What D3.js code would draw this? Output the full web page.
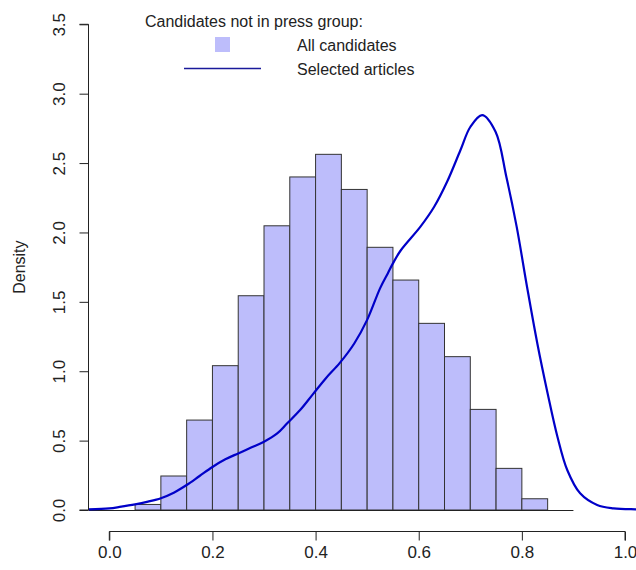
<!DOCTYPE html>
<html>
<head>
<meta charset="utf-8">
<script src="https://cdn.jsdelivr.net/npm/d3@7"></script>
<style>
  body { margin: 0; background: #fff; }
  text { font-family: "Liberation Sans", Arial, sans-serif; fill: #222; }
</style>
</head>
<body>
<svg id="chart" width="636" height="570"></svg>
<script>
// histogram of all candidates (density), bins of 0.05
const binStarts = [0.05, 0.10, 0.15, 0.20, 0.25, 0.30, 0.35, 0.40, 0.45, 0.50, 0.55, 0.60, 0.65, 0.70, 0.75, 0.80];
const binDensity = [0.04, 0.245, 0.648, 1.04, 1.544, 2.048, 2.40, 2.563, 2.31, 1.893, 1.657, 1.345, 1.105, 0.725, 0.30, 0.081];
const binWidth = 0.05;

// kernel density of selected articles
const densX = [-0.04, 0.0, 0.02, 0.05, 0.075, 0.10, 0.125, 0.15, 0.175, 0.20, 0.225, 0.25, 0.275, 0.30, 0.325, 0.345,
  0.37, 0.395, 0.42, 0.447, 0.475, 0.50, 0.525, 0.54, 0.55, 0.565, 0.603, 0.63, 0.655, 0.681, 0.70, 0.723,
  0.749, 0.77, 0.79, 0.81, 0.83, 0.85, 0.869, 0.888, 0.913, 0.946, 0.978, 1.02, 1.04];
const densY = [0.004, 0.012, 0.022, 0.04, 0.06, 0.085, 0.125, 0.18, 0.245, 0.31, 0.365, 0.408, 0.45, 0.492, 0.55, 0.625,
  0.72, 0.835, 0.95, 1.06, 1.2, 1.37, 1.597, 1.705, 1.777, 1.87, 2.04, 2.185, 2.365, 2.594, 2.76, 2.846,
  2.726, 2.40, 2.04, 1.609, 1.2, 0.84, 0.528, 0.288, 0.12, 0.036, 0.012, 0.005, 0.004];

const xTicks = [0.0, 0.2, 0.4, 0.6, 0.8, 1.0];
const yTicks = [0.0, 0.5, 1.0, 1.5, 2.0, 2.5, 3.0, 3.5];
const baseLine = [-0.04, 0.9];

const legendTitle = 'Candidates not in press group:';
const legendLabels = ['All candidates', 'Selected articles'];

const svg = d3.select('#chart');

const x = d3.scaleLinear().domain([0, 1]).range([109.3, 625]);
const y = d3.scaleLinear().domain([0, 3.5]).range([510, 24.3]);

// bars
svg.append('g')
  .selectAll('rect')
  .data(binStarts)
  .enter()
  .append('rect')
  .attr('x', (d) => x(d))
  .attr('y', (d, i) => y(binDensity[i]))
  .attr('width', (d) => x(d + binWidth) - x(d))
  .attr('height', (d, i) => y(0) - y(binDensity[i]))
  .attr('fill', '#bdbdfb')
  .attr('stroke', '#333')
  .attr('stroke-width', 1);

// zero line under the bars
svg.append('line')
  .attr('x1', x(baseLine[0]))
  .attr('x2', x(baseLine[1]))
  .attr('y1', y(0) + 0.5)
  .attr('y2', y(0) + 0.5)
  .attr('stroke', '#222')
  .attr('stroke-width', 1);

// density curve
const line = d3.line()
  .x((d) => x(d[0]))
  .y((d) => y(d[1]))
  .curve(d3.curveCatmullRom.alpha(0.5));

svg.append('path')
  .datum(densX.map((v, i) => [v, densY[i]]))
  .attr('d', line)
  .attr('fill', 'none')
  .attr('stroke', '#0000c8')
  .attr('stroke-width', 2.2);

// x axis, offset below the plot like R
const bottomAxis = d3.axisBottom(x)
  .tickValues(xTicks)
  .tickFormat(d3.format('.1f'))
  .tickSize(9)
  .tickPadding(5);

const gx = svg.append('g')
  .attr('transform', 'translate(0, 531.5)')
  .attr('font-size', 17)
  .call(bottomAxis);
gx.select('.domain').attr('d', `M${x(0)},9V0H${x(1)}V9`).attr('stroke', '#222');
gx.selectAll('.tick line').attr('stroke', '#222');
gx.selectAll('.tick text').style('font-size', '17px').attr('fill', '#222');

// y axis with rotated labels
const leftAxis = d3.axisLeft(y)
  .tickValues(yTicks)
  .tickFormat(d3.format('.1f'))
  .tickSize(9);

const gy = svg.append('g')
  .attr('transform', 'translate(88.5, 0)')
  .attr('font-size', 17)
  .call(leftAxis);
gy.select('.domain').attr('d', `M-9,${y(0)}H0V${y(3.5)}H-9`).attr('stroke', '#222');
gy.selectAll('.tick line').attr('stroke', '#222');
gy.selectAll('.tick text')
  .style('font-size', '17px')
  .attr('fill', '#222')
  .attr('x', null)
  .attr('dy', null)
  .attr('text-anchor', 'middle')
  .attr('transform', 'translate(-24, 0) rotate(-90)');

svg.append('text')
  .attr('transform', `translate(25, ${(y(0) + y(3.5)) / 2}) rotate(-90)`)
  .attr('text-anchor', 'middle')
  .style('font-size', '16px')
  .text('Density');

// legend
const legend = svg.append('g');
legend.append('text')
  .attr('x', 145)
  .attr('y', 27)
  .style('font-size', '16px')
  .text(legendTitle);

legend.selectAll('.lab')
  .data(legendLabels)
  .enter()
  .append('text')
  .attr('class', 'lab')
  .attr('x', 297)
  .attr('y', (d, i) => 51 + i * 24)
  .style('font-size', '16px')
  .text((d) => d);

legend.append('rect')
  .attr('x', 215)
  .attr('y', 37)
  .attr('width', 15)
  .attr('height', 15)
  .attr('fill', '#bdbdfb');

legend.append('line')
  .attr('x1', 184)
  .attr('x2', 261)
  .attr('y1', 68.5)
  .attr('y2', 68.5)
  .attr('stroke', '#1a1a9a')
  .attr('stroke-width', 1.5);
</script>
</body>
</html>
